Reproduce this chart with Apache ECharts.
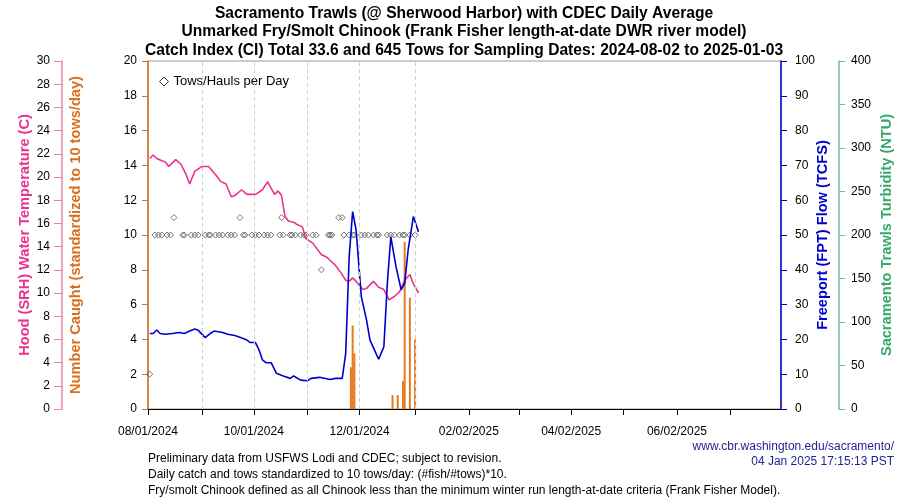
<!DOCTYPE html>
<html>
<head>
<meta charset="utf-8">
<script src="https://cdn.jsdelivr.net/npm/echarts@6/dist/echarts.min.js"></script>
<style>html,body{margin:0;padding:0;background:#fff}#c{width:900px;height:500px}</style>
</head>
<body>
<div id="c"></div>
<script>
// x axis: one category per day starting 2024-08-01 (366 days)
const startDate = Date.UTC(2024, 7, 1);
const nDays = 366;
const xTickDays = [0,31,61,92,122,154,185,214,244,274,305,336];
const xLabelDays = [0,61,122,185,244,305];
const dashedTickDays = [31,61,92,122,154];

// Hood (SRH) water temperature, C  [day, value]
const tempData = [[1,21.6],[3,21.9],[5,21.6],[8,21.4],[10,21.3],[12,20.9],[16,21.5],[19,21.1],[22,20.2],[24,19.4],[27,20.5],[31,20.9],[35,20.9],[39,20.2],[42,19.6],[45,19.4],[48,18.3],[50,18.4],[54,18.9],[57,18.5],[60,18.5],[62,18.5],[66,18.9],[69,19.6],[70,19.3],[73,18.5],[75,18.8],[77,18.4],[79,16.6],[81,16.2],[84,16.1],[86,15.9],[89,15.7],[91,14.7],[95,14.3],[100,13.3],[103,13.1],[105,12.8],[108,12.4],[111,11.8],[114,11.1],[116,11.0],[118,11.3],[120,11.0],[124,10.3],[126,10.4],[130,11.0],[133,10.5],[136,10.3],[139,9.4],[142,9.7],[145,10.1],[148,11.1],[151,11.6],[153,10.8],[156,10.0]];

// Freeport (FPT) flow, TCFS  [day, value]
const flowData = [[1,21.7],[3,21.7],[5,22.7],[7,21.7],[10,21.5],[14,21.7],[18,22.0],[21,21.7],[24,22.4],[27,23.0],[29,22.6],[33,20.5],[36,21.7],[38,22.4],[43,22.0],[46,21.5],[50,21.1],[53,20.6],[57,19.8],[59,19.1],[62,19.1],[64,17.0],[66,14.1],[68,13.3],[71,13.3],[74,10.3],[78,9.5],[82,8.8],[84,9.5],[88,8.3],[92,8.1],[94,8.8],[99,9.1],[103,8.7],[105,8.5],[108,8.8],[112,8.8],[114,16.0],[116,43.8],[118,56.7],[119,57.2],[120,51.4],[123,32.3],[126,25.6],[128,19.8],[131,16.5],[133,14.3],[136,17.9],[138,36.1],[140,49.5],[141,49.5],[143,40.9],[146,34.2],[148,36.1],[150,45.7],[153,55.3],[154,54.8],[156,50.9]];

// Number caught (standardized to 10 tows/day)  [day, value]
const catchData = [[117,2.4],[118,4.8],[119,3.2],[141,0.8],[144,0.8],[147,1.6],[148,9.6],[151,6.4],[154,4.0]];

// Tows/Hauls per day  [day, value]
const towsData = [[1,2],[4,10],[6,10],[8,10],[11,10],[13,10],[15,11],[20,10],[21,10],[25,10],[27,10],[29,10],[33,10],[35,10],[36,10],[39,10],[41,10],[43,10],[46,10],[48,10],[50,10],[53,11],[55,10],[56,10],[60,10],[62,10],[64,10],[67,10],[69,10],[71,10],[76,10],[77,11],[78,10],[82,10],[83,10],[85,10],[88,10],[90,10],[91,10],[95,10],[97,10],[100,8],[104,10],[105,10],[106,10],[110,11],[112,11],[113,10],[116,10],[118,10],[119,10],[123,10],[125,10],[127,10],[130,10],[132,10],[133,10],[138,10],[140,10],[142,10],[145,10],[147,10],[148,10],[151,10],[154,10]];

const titleLines = ['Sacramento Trawls (@ Sherwood Harbor) with CDEC Daily Average','Unmarked Fry/Smolt Chinook (Frank Fisher length-at-date DWR river model)','Catch Index (CI) Total 33.6 and 645 Tows for Sampling Dates: 2024-08-02 to 2025-01-03'];
const noteLines = ['Preliminary data from USFWS Lodi and CDEC; subject to revision.','Daily catch and tows standardized to 10 tows/day: (#fish/#tows)*10.','Fry/smolt Chinook defined as all Chinook less than the minimum winter run length-at-date criteria (Frank Fisher Model).'];
const creditLines = ['www.cbr.washington.edu/sacramento/','04 Jan 2025 17:15:13 PST'];

function pad(n){ return (n<10?'0':'')+n; }
const categories = [];
for (let i=0;i<nDays;i++){
  const d = new Date(startDate + i*86400000);
  categories.push(pad(d.getUTCMonth()+1)+'/'+pad(d.getUTCDate())+'/'+d.getUTCFullYear());
}

const FONT = '"Liberation Sans", Arial, sans-serif';
const PINK = '#E8338F', PINK_L = '#F07DB8', ORANGE = '#D9701E', BAR = '#E8791C', BLUE = '#0000CC', GREEN = '#38A86A', GREEN_L = '#6DBE8C';

const chart = echarts.init(document.getElementById('c'), null, {renderer:'canvas'});

const graphics = [];
titleLines.forEach((t,i)=>graphics.push({type:'text', x:464, y:13.5+i*18.5, style:{text:t, fill:'#000', font:'bold 15.6px '+FONT, align:'center', verticalAlign:'middle'}}));
noteLines.forEach((t,i)=>graphics.push({type:'text', x:148, y:459+i*16, style:{text:t, fill:'#000', font:'12px '+FONT, align:'left', verticalAlign:'middle'}}));
creditLines.forEach((t,i)=>graphics.push({type:'text', x:894, y:447+i*15, style:{text:t, fill:'#1F1F8F', font:'12px '+FONT, align:'right', verticalAlign:'middle'}}));

function yAx(name, pos, off, min, max, itv, gap, lineC, nameC, tickLen, margin){
  return {
    type:'value', name:name, position:pos, offset:off, min:min, max:max, interval:itv,
    nameLocation:'middle', nameRotate:90, nameGap:gap, nameMoveOverlap:false,
    axisLine:{show:true, lineStyle:{color:lineC, width:1.5}},
    axisTick:{show:true, length:tickLen, lineStyle:{color:lineC}},
    axisLabel:{color:'#000', fontSize:12, fontFamily:FONT, margin:margin},
    splitLine:{show:false},
    nameTextStyle:{color:nameC, fontSize:14.6, fontWeight:'bold', fontFamily:FONT}
  };
}

const option = {
  animation:false,
  backgroundColor:'#fff',
  grid:{left:148, right:119, top:61, bottom:91, show:true, borderColor:'#999', borderWidth:1, outerBoundsMode:'none', containLabel:false},
  legend:{
    data:[{name:'Tows/Hauls per Day', icon:'diamond'}],
    left:154, top:70, itemWidth:9, itemHeight:9, itemGap:6,
    itemStyle:{color:'rgba(255,255,255,0)', borderColor:'#000', borderWidth:1},
    textStyle:{fontSize:13, color:'#000', fontFamily:FONT}
  },
  graphic:graphics,
  xAxis:{
    type:'category', data:categories, boundaryGap:false,
    axisLine:{show:true, lineStyle:{color:'#000', width:1}},
    axisTick:{show:true, length:6, lineStyle:{color:'#000'}, interval:(i)=>xTickDays.includes(i)},
    axisLabel:{color:'#000', fontSize:12, fontFamily:FONT, margin:17, interval:(i)=>xLabelDays.includes(i)},
    splitLine:{show:false}
  },
  yAxis:[
    yAx('Number Caught (standardized to 10 tows/day)','left',0,0,20,2,64.5,ORANGE,ORANGE,6,11),
    yAx('Hood (SRH) Water Temperature (C)','left',86,0,30,2,29.5,PINK_L,PINK,8,12),
    yAx('Freeport (FPT) Flow (TCFS)','right',0,0,100,10,34.5,BLUE,BLUE,6,14),
    yAx('Sacramento Trawls Turbidity (NTU)','right',58,0,400,50,40.5,GREEN_L,GREEN,6,12)
  ],
  series:[
    {type:'bar', name:'Catch', yAxisIndex:0, data:catchData, barWidth:2,
      itemStyle:{color:BAR}, silent:true,
      markLine:{silent:true, symbol:['none','none'], label:{show:false},
        lineStyle:{color:'#d0d0d0', type:[4,3], width:1},
        data:dashedTickDays.map(i=>({xAxis:categories[i]}))}},
    {type:'line', name:'Temperature', yAxisIndex:1, data:tempData, showSymbol:false, symbol:'none',
      lineStyle:{color:PINK, width:1.6}},
    {type:'line', name:'Flow', yAxisIndex:2, data:flowData, showSymbol:false, symbol:'none',
      lineStyle:{color:BLUE, width:1.6}},
    {type:'scatter', name:'Tows/Hauls per Day', yAxisIndex:0, data:towsData, symbol:'diamond', symbolSize:6,
      itemStyle:{color:'rgba(255,255,255,0)', borderColor:'#555', borderWidth:1}}
  ]
};
chart.setOption(option);
</script>
</body>
</html>
